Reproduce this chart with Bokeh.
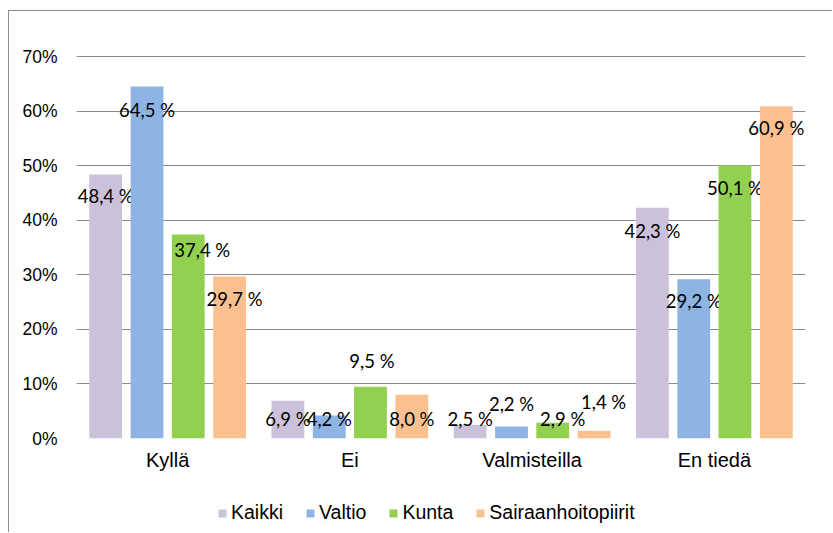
from bokeh.plotting import figure
from bokeh.layouts import column
from bokeh.models import (FactorRange, Range1d, ColumnDataSource, Legend, LegendItem,
                          SingleIntervalTicker, PrintfTickFormatter)
from bokeh.transform import dodge
from bokeh.core.properties import value
from bokeh.embed import file_html
from bokeh.resources import INLINE

# ---- data ----
categories = ["Kyllä", "Ei", "Valmisteilla", "En tiedä"]
series_names = ["Kaikki", "Valtio", "Kunta", "Sairaanhoitopiirit"]
kaikki = [48.4, 6.9, 2.5, 42.3]
valtio = [64.5, 4.2, 2.2, 29.2]
kunta = [37.4, 9.5, 2.9, 50.1]
sairaanhoitopiirit = [29.7, 8.0, 1.4, 60.9]
y_tick_interval = 10

# ---- styling / layout ----
colors = ["#CCC1DA", "#8EB4E3", "#92D050", "#FAC090"]
offsets = [-0.34, -0.113, 0.113, 0.34]
bar_width = 0.18
# label offsets in screen pixels (per series, per category)
label_dx = [[0, 0, 0, 0], [0, 0, 0, 0], [14, 1.5, 10, 0], [5, 0, 9.5, 0]]
label_dy = [[22, 18, -6, 23], [23, 3, -22, 22], [16, -26, -4, 23], [23, 24, -29, 22]]

all_series = [kaikki, valtio, kunta, sairaanhoitopiirit]

W, H_MAIN, H_LEG = 823, 480, 41
xr = FactorRange(factors=categories, range_padding=0)
p = figure(width=W, height=H_MAIN, x_range=xr,
           y_range=Range1d(0, 70.2), output_backend="svg", toolbar_location=None,
           min_border_left=67, min_border_right=27, min_border_top=44,
           min_border_bottom=H_MAIN - 427)

p.outline_line_color = None
p.background_fill_color = "white"
p.border_fill_color = "white"

p.xgrid.grid_line_color = None
p.ygrid.grid_line_color = "#8a8a8a"
p.ygrid.grid_line_width = 1
p.ygrid.ticker = SingleIntervalTicker(interval=y_tick_interval)

p.yaxis.ticker = SingleIntervalTicker(interval=y_tick_interval)
p.yaxis.formatter = PrintfTickFormatter(format="%d%%")
p.yaxis.axis_line_color = None
p.yaxis.major_tick_line_color = None
p.yaxis.minor_tick_line_color = None
p.yaxis.major_tick_in = 0
p.yaxis.major_tick_out = 0
p.yaxis.major_label_standoff = 15
p.yaxis.major_label_text_font = "Liberation Sans"
p.yaxis.major_label_text_font_size = "17.5px"
p.yaxis.major_label_text_color = "#000000"

p.xaxis.axis_line_color = None
p.xaxis.major_tick_line_color = None
p.xaxis.minor_tick_line_color = None
p.xaxis.major_tick_in = 0
p.xaxis.major_tick_out = 0
p.xaxis.major_label_standoff = 10
p.xaxis.major_label_text_font = "Liberation Sans"
p.xaxis.major_label_text_font_size = "20px"
p.xaxis.major_label_text_color = "#000000"

# ---- legend strip below the chart (its bars are empty, only the swatches show) ----
lg = figure(width=W, height=H_LEG, x_range=xr, y_range=Range1d(1000, 1001),
            output_backend="svg", toolbar_location=None,
            x_axis_location=None, y_axis_location=None, min_border=0)
lg.outline_line_color = None
lg.grid.grid_line_color = None
lg.background_fill_color = "white"
lg.border_fill_color = "white"

items = []
for i, (name, vals) in enumerate(zip(series_names, all_series)):
    src = ColumnDataSource(dict(
        cat=categories,
        val=vals,
        lab=[f"{v:.1f} %".replace(".", ",") for v in vals],
        dx=label_dx[i],
        dy=label_dy[i],
    ))
    p.vbar(x=dodge("cat", offsets[i], range=xr), top="val", width=bar_width,
           source=src, fill_color=colors[i], line_color=None)
    p.text(x=dodge("cat", offsets[i], range=xr), y="val", text="lab", source=src,
           x_offset="dx", y_offset="dy", text_align="center", text_baseline="middle",
           text_font=value("Lato"), text_font_size="18.5px", text_color="#000000")
    r = lg.vbar(x=dodge("cat", offsets[i], range=xr), top="val", bottom="val",
                width=0, source=src, fill_color=colors[i], line_color=None)
    items.append(LegendItem(label=name, renderers=[r]))

legend = Legend(items=items, location=(141, 8), orientation="horizontal",
                glyph_width=10, glyph_height=10, label_standoff=4, spacing=22,
                padding=0, margin=0, border_line_color=None, background_fill_alpha=0,
                label_text_font="Liberation Sans", label_text_font_size="19.5px",
                label_text_color="#000000")
lg.add_layout(legend)

layout = column(p, lg, spacing=0)
layout.styles = {"border-top": "1px solid #8c8c8c", "border-left": "1px solid #8c8c8c",
                 "margin-top": "10px", "margin-left": "8px"}

open("out.html", "w").write(file_html(layout, INLINE))
